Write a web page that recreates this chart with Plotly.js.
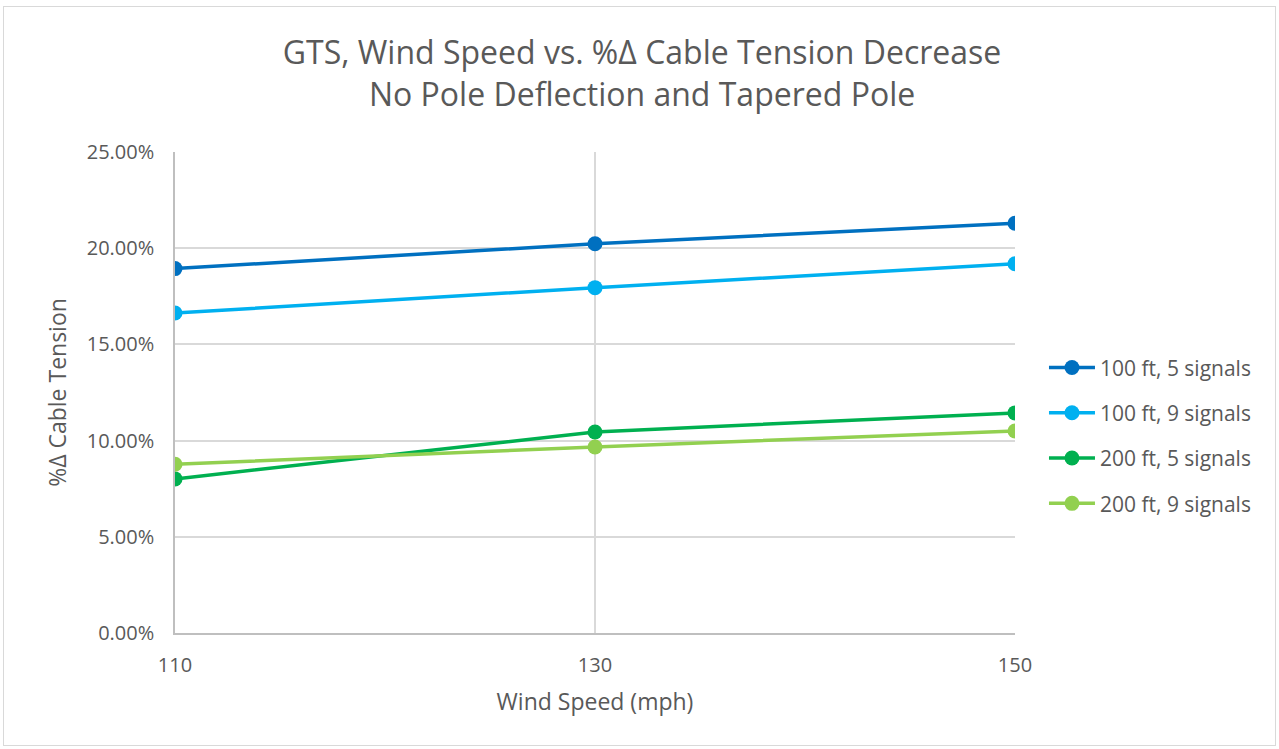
<!DOCTYPE html>
<html><head><meta charset="utf-8">
<script src="https://cdn.plot.ly/plotly-3.0.1.min.js"></script>
<style>
html,body{margin:0;padding:0;background:#fff;}
#chart{width:1279px;height:749px;position:absolute;left:0;top:0;}
#frame{position:absolute;left:3px;top:6px;width:1271px;height:738px;border:1px solid #d9d9d9;pointer-events:none;}
</style></head>
<body>
<div id="chart"></div>
<div id="frame"></div>
<script>
const windSpeeds = [110, 130, 150];
const seriesNames = ["100 ft, 5 signals", "100 ft, 9 signals", "200 ft, 5 signals", "200 ft, 9 signals"];
const s100ft5 = [0.1894, 0.2023, 0.2130];
const s100ft9 = [0.1663, 0.1795, 0.1919];
const s200ft5 = [0.0801, 0.1045, 0.1144];
const s200ft9 = [0.0877, 0.0967, 0.1050];
const yTicks = [0, 0.05, 0.10, 0.15, 0.20, 0.25];
const yTickText = ["0.00%", "5.00%", "10.00%", "15.00%", "20.00%", "25.00%"];
const colors = ["#0070C0", "#00B0F0", "#00B050", "#92D050"];
const allValues = [s100ft5, s100ft9, s200ft5, s200ft9];

const font = "Open Sans, Noto Sans, sans-serif";
const traces = allValues.map((v, i) => ({
  x: windSpeeds, y: v, name: seriesNames[i], type: "scatter", mode: "lines+markers",
  line: {color: colors[i], width: 3.5},
  marker: {color: colors[i], size: 15},
  legendgroup: "g" + i
}));

const layout = {
  width: 1279, height: 749,
  paper_bgcolor: "#fff", plot_bgcolor: "#fff",
  margin: {l: 175, r: 264, t: 152, b: 116},
  font: {family: font, color: "#595959", size: 20},
  title: {text: "GTS, Wind Speed vs. %Δ Cable Tension Decrease<br>No Pole Deflection and Tapered Pole",
          x: 0.502, xref: "container", xanchor: "center", y: 0.914, yref: "container", yanchor: "middle",
          font: {family: font, size: 32, color: "#595959"}},
  xaxis: {range: [110, 150], tickvals: windSpeeds, ticktext: windSpeeds.map(String),
          showgrid: true, gridcolor: "#d9d9d9", gridwidth: 1.5,
          showline: true, linecolor: "#bfbfbf", linewidth: 1.5, zeroline: false,
          ticks: "outside", ticklen: 13, tickcolor: "rgba(0,0,0,0)",
          tickfont: {size: 20, color: "#595959"},
          title: {text: "Wind Speed (mph)", font: {size: 23, color: "#595959"}, standoff: 17}},
  yaxis: {range: [0, 0.25], tickvals: yTicks, ticktext: yTickText,
          showgrid: true, gridcolor: "#d9d9d9", gridwidth: 1.5,
          showline: true, linecolor: "#bfbfbf", linewidth: 1.5, zeroline: false,
          ticks: "outside", ticklen: 15, tickcolor: "rgba(0,0,0,0)",
          tickfont: {size: 20, color: "#595959"},
          title: {text: "%Δ Cable Tension", font: {size: 23, color: "#595959"}, standoff: 14}},
  showlegend: true,
  legend: {x: 1.0345, xanchor: "left", y: 0.41, yanchor: "middle", tracegroupgap: 15,
           font: {size: 21, color: "#595959"}, itemwidth: 46, bgcolor: "rgba(0,0,0,0)"}
};

Plotly.newPlot("chart", traces, layout, {displayModeBar: false});
</script>
</body></html>
